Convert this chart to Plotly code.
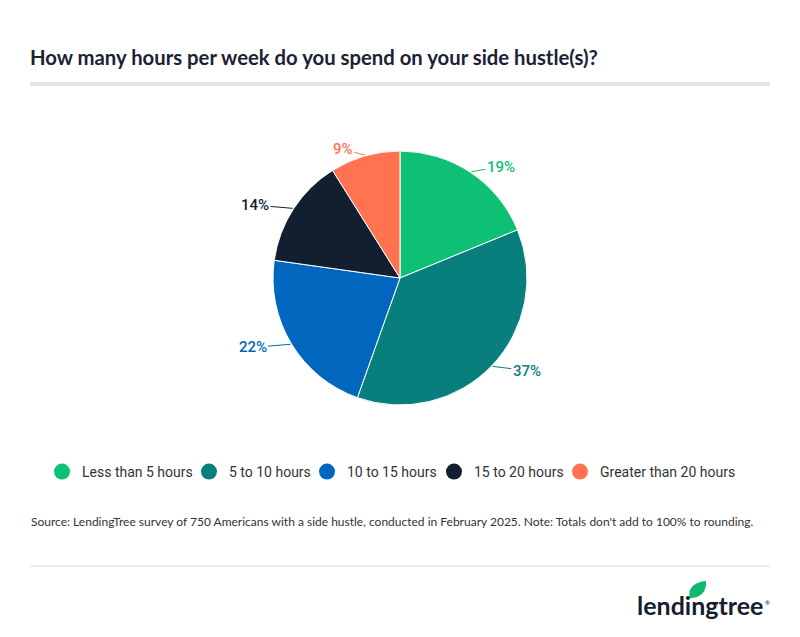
import math
import plotly.graph_objects as go

categories = ["Less than 5 hours", "5 to 10 hours", "10 to 15 hours", "15 to 20 hours", "Greater than 20 hours"]
values = [19, 37, 22, 14, 9]
labels = ["19%", "37%", "22%", "14%", "9%"]
colors = ["#0DC074", "#097F7D", "#0066BE", "#121F31", "#FF7351"]
legend_marker_px = [63, 210, 328, 455, 581]

W, H = 800, 637
pie_x0, pie_x1 = 273, 527
pie_top, pie_bot = 151, 405
cx = (pie_x0 + pie_x1) / 2
cy = (pie_top + pie_bot) / 2
R = (pie_bot - pie_top) / 2

def px(x):
    return x / W

def py(y):
    return 1 - y / H

fig = go.Figure()
fig.add_trace(go.Pie(
    labels=categories, values=values, sort=False, direction="clockwise", rotation=0,
    marker=dict(colors=colors, line=dict(color="white", width=1)),
    textinfo="none", hoverinfo="label+percent", showlegend=False,
    domain=dict(x=[px(pie_x0), px(pie_x1)], y=[py(pie_bot), py(pie_top)]),
))

legend_layouts = {}
for i, (cat, col, mx) in enumerate(zip(categories, colors, legend_marker_px)):
    key = "legend" if i == 0 else f"legend{i + 1}"
    fig.add_trace(go.Scatter(x=[None], y=[None], mode="markers", name=cat, legend=key,
                             marker=dict(symbol="circle", size=16, color=col)))
    legend_layouts[key] = dict(
        x=px(mx - 21), xanchor="left", y=py(472), yanchor="middle",
        orientation="h", bgcolor="rgba(0,0,0,0)", borderwidth=0,
        font=dict(family="Roboto", size=14, color="#333333"),
        itemsizing="trace", itemwidth=30,
    )

annotations = []
total = sum(values)
cum = 0
for v, lab, col in zip(values, labels, colors):
    mid = (cum + v / 2) / total * 2 * math.pi
    cum += v
    s, c = math.sin(mid), math.cos(mid)
    ex, ey = cx + (R + 1) * s, cy - (R + 1) * c
    sign = 1 if s >= 0 else -1
    lx = cx + 156 * s + sign * 14
    ly = cy - 134 * c
    annotations.append(dict(
        x=px(ex), y=py(ey), xref="paper", yref="paper",
        text=lab, showarrow=True, arrowhead=0, arrowwidth=1, arrowcolor=col,
        ax=lx - ex, ay=ly - ey, standoff=0,
        font=dict(family="Roboto", size=15, color=col, weight=500),
    ))

annotations.append(dict(
    x=px(28), y=py(57), xref="paper", yref="paper", xanchor="left", yanchor="middle",
    text="<b>How many hours per week do you spend on your side hustle(s)?</b>",
    showarrow=False, font=dict(family="Lato", size=20.3, color="#1A2233"),
))
annotations.append(dict(
    x=px(29), y=py(521), xref="paper", yref="paper", xanchor="left", yanchor="middle",
    text="Source: LendingTree survey of 750 Americans with a side hustle, conducted in February 2025. Note: Totals don't add to 100% to rounding.",
    showarrow=False, font=dict(family="Lato", size=12, color="#333333"),
))
annotations.append(dict(
    x=px(700), y=py(605), xref="paper", yref="paper", xanchor="center", yanchor="middle",
    text="<b>lendingtree</b>", showarrow=False,
    font=dict(family="Lato", size=25, color="#15202E"),
))
annotations.append(dict(
    x=px(767), y=py(602), xref="paper", yref="paper", xanchor="center", yanchor="middle",
    text="®", showarrow=False, font=dict(family="Lato", size=6, color="#15202E"),
))

leaf = (f"M {px(690)},{py(598)} "
        f"C {px(687)},{py(588)} {px(695)},{py(582)} {px(706)},{py(581)} "
        f"C {px(707)},{py(592)} {px(700)},{py(598)} {px(690)},{py(598)} Z")

shapes = [
    dict(type="rect", xref="paper", yref="paper", x0=px(30), x1=px(770), y0=py(86), y1=py(82),
         fillcolor="#E6E6E6", line=dict(width=0)),
    dict(type="line", xref="paper", yref="paper", x0=px(30), x1=px(770), y0=py(566), y1=py(566),
         line=dict(color="#DDDDDD", width=1)),
    dict(type="path", xref="paper", yref="paper", path=leaf, fillcolor="#10B86E", line=dict(width=0)),
]

fig.update_layout(
    width=W, height=H, autosize=False,
    margin=dict(l=0, r=0, t=0, b=0),
    paper_bgcolor="white", plot_bgcolor="white",
    xaxis=dict(visible=False), yaxis=dict(visible=False),
    annotations=annotations, shapes=shapes,
    **legend_layouts,
)

fig.write_html("out.html", config={"displayModeBar": False},
               post_script="document.body.style.margin='0';document.body.style.overflow='hidden';")
